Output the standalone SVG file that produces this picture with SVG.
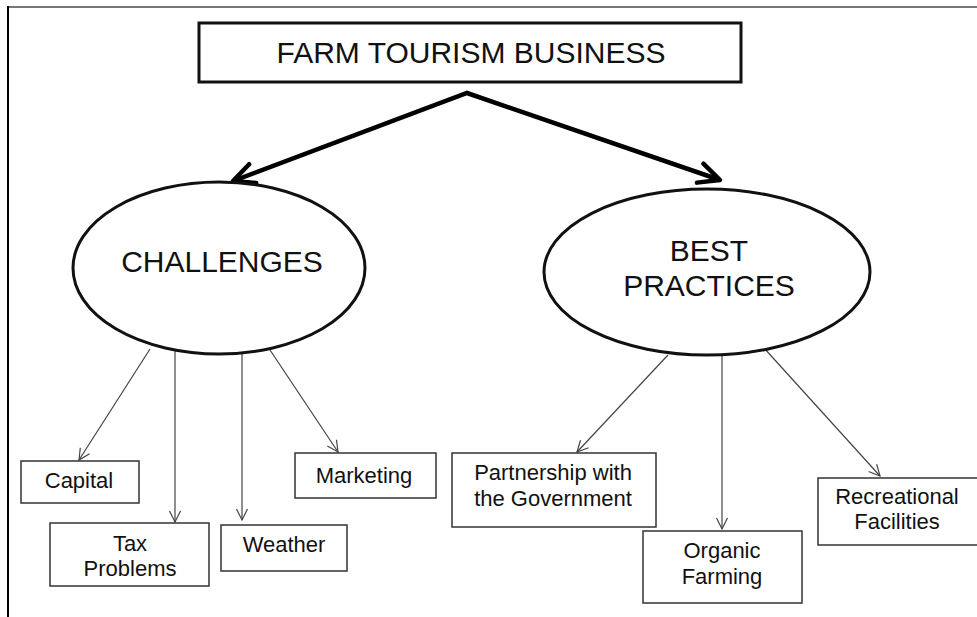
<svg xmlns="http://www.w3.org/2000/svg" width="977" height="617" viewBox="0 0 977 617">
  <style>
    text { font-family: "Liberation Sans", Arial, sans-serif; fill: #111; text-anchor: middle; }
    .big { font-size: 30px; }
    .small { font-size: 22px; }
    .main-box { fill: #fff; stroke: #111; stroke-width: 3; }
    .oval { fill: #fff; stroke: #111; stroke-width: 3; }
    .leaf { fill: #fff; stroke: #333; stroke-width: 1.5; }
    .bold-link { fill: none; stroke: #000; stroke-width: 4.5; stroke-linejoin: miter; }
    .thin-link { fill: none; stroke: #444; stroke-width: 1.2; }
  </style>
  <defs>
    <marker id="head-bold" markerUnits="userSpaceOnUse" viewBox="-26 -14 30 28" markerWidth="30" markerHeight="28" refX="0" refY="0" orient="auto-start-reverse" overflow="visible">
      <path d="M-21,-10 L0,0 L-21,10" fill="none" stroke="#000" stroke-width="4.5" stroke-linecap="round" stroke-linejoin="round"/>
    </marker>
    <marker id="head-thin" markerUnits="userSpaceOnUse" viewBox="-14 -8 16 16" markerWidth="16" markerHeight="16" refX="0" refY="0" orient="auto" overflow="visible">
      <path d="M-11,-5.5 L0,0 L-11,5.5" fill="none" stroke="#444" stroke-width="1.2"/>
    </marker>
  </defs>

  <!-- page frame: grey top rule, black left rule -->
  <line x1="8" y1="7" x2="977" y2="7" stroke="#777" stroke-width="2"/>
  <line x1="8" y1="6" x2="8" y2="617" stroke="#000" stroke-width="2"/>

  <g id="connectors">
    <path class="bold-link" d="M233,181 L467,93 L720,180" marker-start="url(#head-bold)" marker-end="url(#head-bold)"/>
    <line class="thin-link" x1="150" y1="349" x2="79" y2="460" marker-end="url(#head-thin)"/>
    <line class="thin-link" x1="175" y1="351" x2="175" y2="522" marker-end="url(#head-thin)"/>
    <line class="thin-link" x1="242" y1="354" x2="242" y2="520" marker-end="url(#head-thin)"/>
    <line class="thin-link" x1="270" y1="350" x2="338" y2="452" marker-end="url(#head-thin)"/>
    <line class="thin-link" x1="668" y1="355" x2="577" y2="452" marker-end="url(#head-thin)"/>
    <line class="thin-link" x1="722" y1="354" x2="722" y2="529" marker-end="url(#head-thin)"/>
    <line class="thin-link" x1="764" y1="348" x2="880" y2="476" marker-end="url(#head-thin)"/>
  </g>

  <g id="farm-tourism-business">
    <rect class="main-box" x="199" y="23" width="542" height="59"/>
    <text class="big" x="471" y="63">FARM TOURISM BUSINESS</text>
  </g>

  <g id="challenges">
    <ellipse class="oval" cx="219" cy="268" rx="146" ry="86"/>
    <text class="big" x="222" y="272">CHALLENGES</text>
  </g>

  <g id="best-practices">
    <ellipse class="oval" cx="707" cy="272" rx="163" ry="83"/>
    <text class="big" x="709" y="261">BEST</text>
    <text class="big" x="709" y="296">PRACTICES</text>
  </g>

  <g id="capital">
    <rect class="leaf" x="21" y="461" width="118" height="42"/>
    <text class="small" x="79" y="488">Capital</text>
  </g>

  <g id="tax-problems">
    <rect class="leaf" x="50" y="523" width="159" height="63"/>
    <text class="small" x="130" y="551">Tax</text>
    <text class="small" x="130" y="576">Problems</text>
  </g>

  <g id="weather">
    <rect class="leaf" x="221" y="525" width="126" height="46"/>
    <text class="small" x="284" y="552">Weather</text>
  </g>

  <g id="marketing">
    <rect class="leaf" x="295" y="453" width="141" height="45"/>
    <text class="small" x="364" y="483">Marketing</text>
  </g>

  <g id="partnership">
    <rect class="leaf" x="452" y="453" width="204" height="74"/>
    <text class="small" x="553" y="480">Partnership with</text>
    <text class="small" x="553" y="506">the Government</text>
  </g>

  <g id="organic-farming">
    <rect class="leaf" x="643" y="531" width="159" height="72"/>
    <text class="small" x="722" y="558">Organic</text>
    <text class="small" x="722" y="584">Farming</text>
  </g>

  <g id="recreational-facilities">
    <rect class="leaf" x="818" y="478" width="162" height="67"/>
    <text class="small" x="897" y="504">Recreational</text>
    <text class="small" x="897" y="529">Facilities</text>
  </g>
</svg>
